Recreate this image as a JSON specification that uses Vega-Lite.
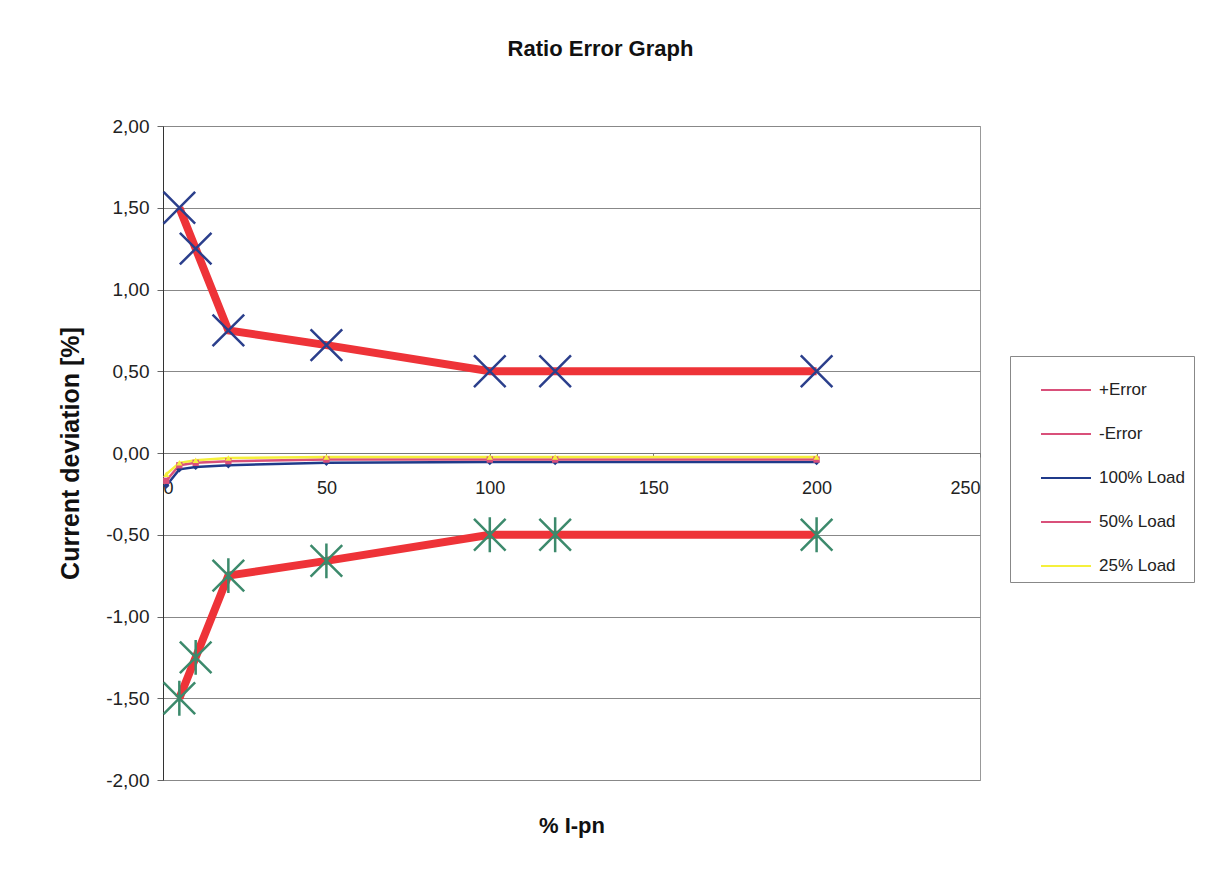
{
  "$schema": "https://vega.github.io/schema/vega-lite/v6.json",
  "autosize": "none",
  "width": 817,
  "height": 654,
  "padding": {"left": 163, "top": 126, "right": 248, "bottom": 105},
  "background": "white",
  "title": {"text": "Ratio Error Graph", "font": "Liberation Sans", "fontSize": 22, "fontWeight": "bold", "color": "#111", "anchor": "middle", "dx": 29, "offset": 56},
  "config": {
    "font": "Liberation Sans",
    "view": {"stroke": "#999", "strokeWidth": 1}
  },
  "data": {"values": [
    {"series": "+Error", "x": 5, "y": 1.5},
    {"series": "+Error", "x": 10, "y": 1.25},
    {"series": "+Error", "x": 20, "y": 0.75},
    {"series": "+Error", "x": 50, "y": 0.66},
    {"series": "+Error", "x": 100, "y": 0.5},
    {"series": "+Error", "x": 120, "y": 0.5},
    {"series": "+Error", "x": 200, "y": 0.5},
    {"series": "-Error", "x": 5, "y": -1.5},
    {"series": "-Error", "x": 10, "y": -1.25},
    {"series": "-Error", "x": 20, "y": -0.75},
    {"series": "-Error", "x": 50, "y": -0.66},
    {"series": "-Error", "x": 100, "y": -0.5},
    {"series": "-Error", "x": 120, "y": -0.5},
    {"series": "-Error", "x": 200, "y": -0.5},
    {"series": "100% Load", "x": 1, "y": -0.2},
    {"series": "100% Load", "x": 5, "y": -0.1},
    {"series": "100% Load", "x": 10, "y": -0.085},
    {"series": "100% Load", "x": 20, "y": -0.075},
    {"series": "100% Load", "x": 50, "y": -0.06},
    {"series": "100% Load", "x": 100, "y": -0.055},
    {"series": "100% Load", "x": 120, "y": -0.055},
    {"series": "100% Load", "x": 200, "y": -0.055},
    {"series": "50% Load", "x": 1, "y": -0.17},
    {"series": "50% Load", "x": 5, "y": -0.075},
    {"series": "50% Load", "x": 10, "y": -0.06},
    {"series": "50% Load", "x": 20, "y": -0.05},
    {"series": "50% Load", "x": 50, "y": -0.04},
    {"series": "50% Load", "x": 100, "y": -0.04},
    {"series": "50% Load", "x": 120, "y": -0.04},
    {"series": "50% Load", "x": 200, "y": -0.04},
    {"series": "25% Load", "x": 1, "y": -0.13},
    {"series": "25% Load", "x": 5, "y": -0.06},
    {"series": "25% Load", "x": 10, "y": -0.045},
    {"series": "25% Load", "x": 20, "y": -0.03},
    {"series": "25% Load", "x": 50, "y": -0.025},
    {"series": "25% Load", "x": 100, "y": -0.025},
    {"series": "25% Load", "x": 120, "y": -0.025},
    {"series": "25% Load", "x": 200, "y": -0.025}
  ]},
  "encoding": {
    "x": {"field": "x", "type": "quantitative",
      "scale": {"domain": [0, 250], "nice": false, "zero": false},
      "axis": {"values": [0, 50, 100, 150, 200, 250], "offset": -327, "grid": false, "domain": true, "domainColor": "#777", "ticks": true, "tickSize": 4, "tickColor": "#777",
        "labelPadding": 22, "labelFontSize": 18, "labelColor": "#222", "labelFont": "Liberation Sans",
        "title": "% I-pn", "titleFontSize": 22, "titleFontWeight": "bold", "titleColor": "#111", "titlePadding": 318}},
    "y": {"field": "y", "type": "quantitative",
      "scale": {"domain": [-2, 2], "nice": false},
      "axis": {"values": [-2, -1.5, -1, -0.5, 0, 0.5, 1, 1.5, 2], "grid": true, "gridColor": "#888", "gridWidth": 1, "gridOpacity": 1,
        "domain": true, "domainColor": "#333", "ticks": true, "tickSize": 6, "tickColor": "#666",
        "labelExpr": "replace(replace(format(datum.value, '.2f'), '.', ','), '\u2212', '-')",
        "labelFontSize": 19, "labelColor": "#222", "labelPadding": 8,
        "title": "Current deviation [%]", "titleFontSize": 25, "titleFontWeight": "bold", "titleColor": "#111", "titlePadding": 22}}
  },
  "layer": [
    {
      "transform": [{"filter": "datum.series === '+Error' || datum.series === '-Error'"}],
      "mark": {"type": "line", "color": "#ee3338", "strokeWidth": 8},
      "encoding": {"detail": {"field": "series"}}
    },
    {
      "transform": [{"filter": "datum.series === '+Error'"}],
      "mark": {"type": "point", "shape": "M-1,-1L1,1M1,-1L-1,1", "filled": false, "stroke": "#2b3f8c", "strokeWidth": 2.5, "size": 1000, "opacity": 1}
    },
    {
      "transform": [{"filter": "datum.series === '-Error'"}],
      "mark": {"type": "point", "shape": "M-1,-1L1,1M1,-1L-1,1M0,-1.1L0,1.1", "filled": false, "stroke": "#3c8a6c", "strokeWidth": 2.5, "size": 1000, "opacity": 1}
    },
    {
      "transform": [{"filter": "datum.series !== '+Error' && datum.series !== '-Error'"}],
      "mark": {"type": "line", "strokeWidth": 2.5},
      "encoding": {
        "color": {"field": "series", "type": "nominal",
          "scale": {"domain": ["+Error", "-Error", "100% Load", "50% Load", "25% Load"], "range": ["#d9507a", "#d9507a", "#1f3a8a", "#d9507a", "#f5f03c"]},
          "legend": {"title": null, "orient": "none", "legendX": 847, "legendY": 230, "strokeColor": "#888", "padding": 8, "symbolOffset": 22, "rowPadding": 10, "labelFontSize": 17, "labelColor": "#222", "labelFont": "Liberation Sans", "symbolType": "stroke", "symbolSize": 2500, "symbolStrokeWidth": 2, "labelOffset": 7}
        }
      }
    },
    {
      "transform": [{"filter": "datum.series !== '+Error' && datum.series !== '-Error'"}],
      "mark": {"type": "point", "filled": true, "size": 40, "opacity": 1},
      "encoding": {
        "color": {"field": "series", "type": "nominal"},
        "shape": {"field": "series", "type": "nominal", "scale": {"domain": ["100% Load", "50% Load", "25% Load"], "range": ["diamond", "square", "triangle-up"]}, "legend": null}
      }
    }
  ]
}
